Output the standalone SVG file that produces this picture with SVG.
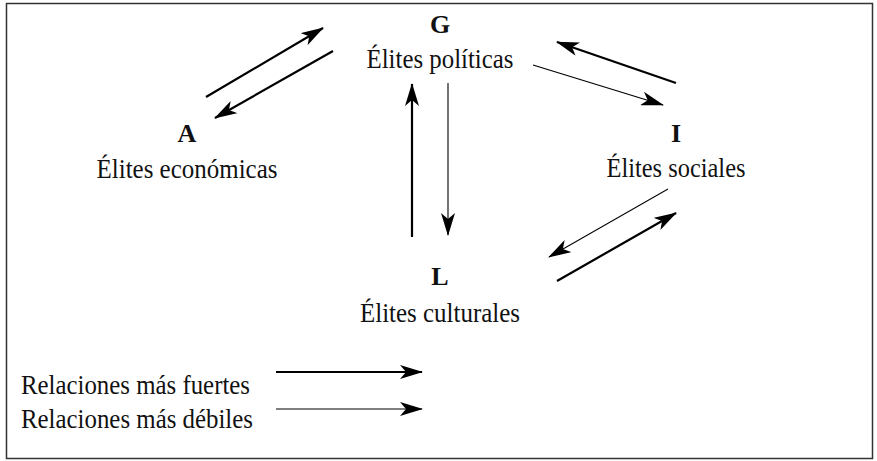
<svg xmlns="http://www.w3.org/2000/svg" width="877" height="461" viewBox="0 0 877 461">
<style>
.t{font-family:"Liberation Serif","Times New Roman",serif;font-size:27px;fill:#111;text-anchor:middle}
.b{font-weight:bold;font-size:26px}
.l{text-anchor:start}
.s{stroke:#000;stroke-width:2.2;fill:none}
.w{stroke:#000;stroke-width:1.1;fill:none}
</style>
<defs>
<marker id="ah" viewBox="0 0 23 14" refX="22" refY="7" markerWidth="23" markerHeight="14" markerUnits="userSpaceOnUse" orient="auto">
<path d="M0,0 L23,7 L0,14 L6,7 Z" fill="#000"/>
</marker>
</defs>
<rect x="6.5" y="3.5" width="866" height="455" fill="#fff" stroke="#333" stroke-width="1.5"/>
<g id="nodeG"><text class="t b" x="440" y="33">G</text><text class="t" x="440" y="68" textLength="147" lengthAdjust="spacingAndGlyphs">Élites políticas</text></g>
<g id="nodeA"><text class="t b" x="187" y="142">A</text><text class="t" x="187" y="178" textLength="181" lengthAdjust="spacingAndGlyphs">Élites económicas</text></g>
<g id="nodeI"><text class="t b" x="676" y="142">I</text><text class="t" x="676" y="177" textLength="139" lengthAdjust="spacingAndGlyphs">Élites sociales</text></g>
<g id="nodeL"><text class="t b" x="440" y="285">L</text><text class="t" x="440" y="322" textLength="160" lengthAdjust="spacingAndGlyphs">Élites culturales</text></g>
<g id="connectors">
<line class="s" x1="206" y1="97" x2="323" y2="28" marker-end="url(#ah)"/>
<line class="s" x1="333" y1="51" x2="215" y2="118" marker-end="url(#ah)"/>
<line class="w" x1="448" y1="83" x2="448" y2="235" marker-end="url(#ah)"/>
<line class="s" x1="412" y1="237" x2="412" y2="84" marker-end="url(#ah)"/>
<line class="w" x1="533" y1="65" x2="663" y2="105" marker-end="url(#ah)"/>
<line class="s" x1="676" y1="83" x2="557" y2="42" marker-end="url(#ah)"/>
<line class="w" x1="668" y1="189" x2="549" y2="257" marker-end="url(#ah)"/>
<line class="s" x1="557" y1="281" x2="676" y2="213" marker-end="url(#ah)"/>
</g>
<g id="legend">
<text class="t l" x="21" y="394" textLength="229" lengthAdjust="spacingAndGlyphs">Relaciones más fuertes</text>
<text class="t l" x="21" y="428" textLength="232" lengthAdjust="spacingAndGlyphs">Relaciones más débiles</text>
<line class="s" x1="276" y1="372" x2="422" y2="372" marker-end="url(#ah)"/>
<line class="w" x1="276" y1="409" x2="422" y2="409" marker-end="url(#ah)"/>
</g>
</svg>
